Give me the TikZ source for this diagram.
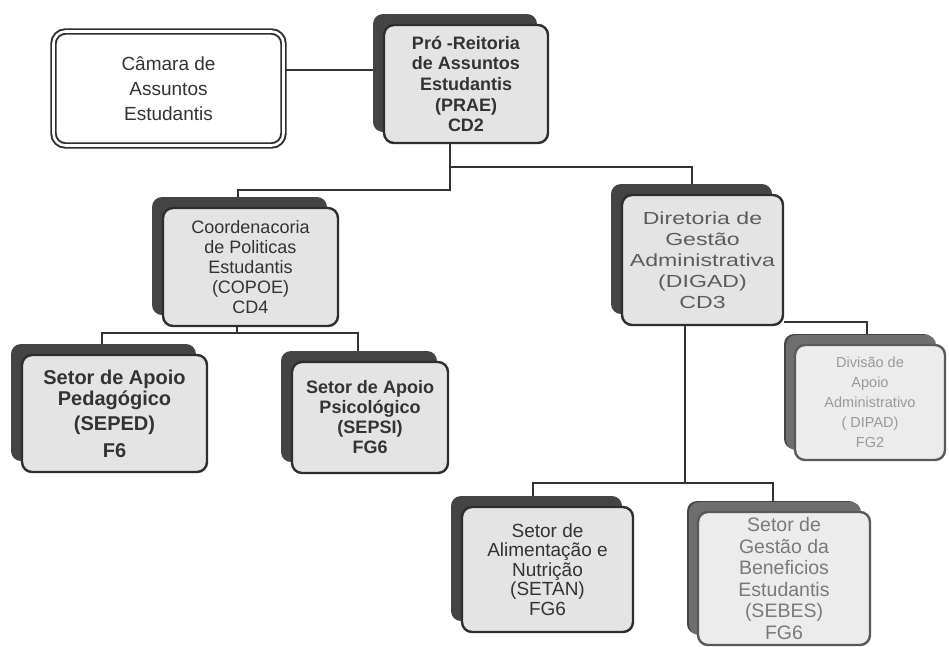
\documentclass[tikz,border=0pt]{standalone}
\usepackage{fontspec}
\setmainfont{Liberation Sans}
\newfontfamily\widefont[FakeStretch=1.32]{Liberation Sans}
\usetikzlibrary{shadows,backgrounds}
\definecolor{txt}{HTML}{333333}
\definecolor{edge}{HTML}{2E2E2E}
\definecolor{boxfill}{HTML}{E4E4E4}
\definecolor{shade}{HTML}{444444}
\definecolor{lightedge}{HTML}{5A5A5A}
\definecolor{lightfill}{HTML}{ECECEC}
\definecolor{lightshade}{HTML}{6E6E6E}
\definecolor{linecol}{HTML}{333333}
\begin{document}
\begin{tikzpicture}[x=1pt,y=-1pt,
  orgbox/.style={draw=edge, line width=2.4pt, fill=boxfill, rounded corners=10pt,
    align=center, inner sep=0pt, text=txt,
    general shadow={fill=shade, shadow xshift=-11pt, shadow yshift=11pt}},
  fadedbox/.style={orgbox, draw=lightedge, fill=lightfill,
    general shadow={fill=lightshade, shadow xshift=-9pt, shadow yshift=10pt}},
  plainbox/.style={draw=edge, line width=1.9pt, double=white, double distance=2.6pt,
    rounded corners=12pt, align=center, inner sep=0pt, text=txt},
  conn/.style={draw=linecol, line width=2.5pt}]
\useasboundingbox (0,0) rectangle (949,646);

\node[plainbox, minimum width=230, minimum height=114,
  font=\fontsize{19}{25}\selectfont] (cam) at (168.5,88.5)
  {Câmara de\\Assuntos\\Estudantis};
\node[orgbox, minimum width=164, minimum height=118,
  font=\bfseries\fontsize{18}{20.7}\selectfont] (prae) at (466,84)
  {Pró -Reitoria\\de Assuntos\\Estudantis\\(PRAE)\\CD2};
\node[orgbox, minimum width=175, minimum height=118,
  font=\fontsize{18}{20}\selectfont] (copoe) at (250.5,267)
  {Coordenacoria\\de Politicas\\Estudantis\\(COPOE)\\CD4};
\node[orgbox, minimum width=161, minimum height=130, text=txt!80!white,
  font=\widefont\fontsize{17.5}{21}\selectfont] (digad) at (702.5,260)
  {Diretoria de\\Gestão\\Administrativa\\(DIGAD)\\CD3};
\node[orgbox, minimum width=185, minimum height=117,
  font=\bfseries\fontsize{20}{21}\selectfont] (seped) at (114.5,413.5)
  {Setor de Apoio\\Pedagógico\\[4pt](SEPED)\\[6pt]F6};
\node[orgbox, minimum width=156, minimum height=111,
  font=\bfseries\fontsize{18}{20}\selectfont] (sepsi) at (370,417.5)
  {Setor de Apoio\\Psicológico\\(SEPSI)\\FG6};
\node[fadedbox, minimum width=150, minimum height=115, text=txt!50!white,
  font=\fontsize{14.5}{20}\selectfont] (dipad) at (870,402.5)
  {Divisão de\\Apoio\\Administrativo\\( DIPAD)\\FG2};
\node[orgbox, minimum width=171, minimum height=125,
  font=\fontsize{19}{19.6}\selectfont] (setan) at (547.5,569.5)
  {Setor de\\Alimentação e\\Nutrição\\(SETAN)\\FG6};
\node[fadedbox, minimum width=172, minimum height=133, text=txt!65!white,
  font=\fontsize{19.5}{21.6}\selectfont] (sebes) at (784,578.5)
  {Setor de\\Gestão da\\Beneficios\\Estudantis\\(SEBES)\\FG6};

\coordinate (c1) at ([yshift=18.5pt]cam.east);
\coordinate (j1) at (450,190);
\coordinate (j2) at (450,167);
\coordinate (xcop) at (238,0);
\coordinate (xdig) at (692,0);
\coordinate (k1) at (237,333);
\coordinate (xa) at (102,0);
\coordinate (xb) at (358,0);
\coordinate (d1) at (867,322);
\coordinate (m1) at (685,483);
\coordinate (xc) at (533,0);
\coordinate (xd) at (773,0);

\begin{scope}[on background layer]
\fill[white] (0,0) rectangle (949,646);
\draw[conn] (c1) -- (c1 -| prae.west);
\draw[conn] (prae.south -| j1) -- (j1) -| (copoe.north -| xcop);
\draw[conn] (j2) -| (digad.north -| xdig);
\draw[conn] (copoe.south -| k1) -- (k1);
\draw[conn] (seped.north -| xa) |- (k1) -| (sepsi.north -| xb);
\draw[conn] (d1 -| digad.east) -- (d1) -- (d1 |- dipad.north);
\draw[conn] (digad.south -| m1) -- (m1);
\draw[conn] (setan.north -| xc) |- (m1) -| (sebes.north -| xd);
\end{scope}
\end{tikzpicture}
\end{document}
